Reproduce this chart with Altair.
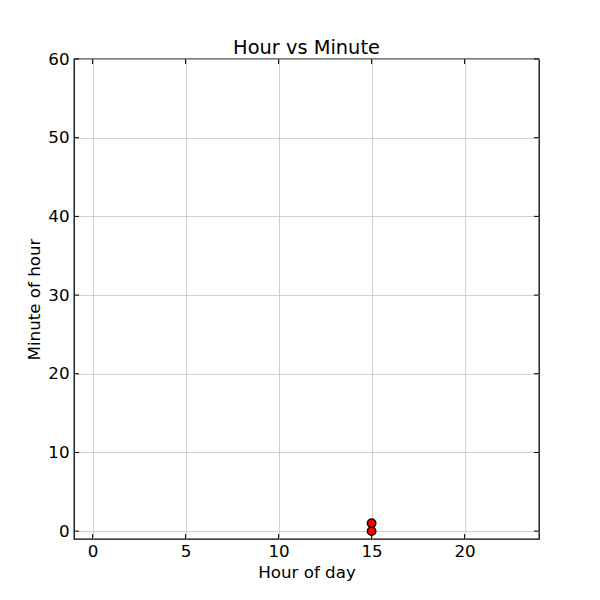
import altair as alt
import pandas as pd

hours = [15, 15]
minutes = [0, 1]
x_ticks = [0, 5, 10, 15, 20]
y_ticks = [0, 10, 20, 30, 40, 50, 60]

W, H = 465, 480
FONT = "DejaVu Sans"

pts = pd.DataFrame({"hour": hours, "minute": minutes})
xt = pd.DataFrame({"v": x_ticks})
yt = pd.DataFrame({"v": y_ticks})

xscale = alt.Scale(domain=[-1, 24], nice=False, zero=False)
yscale = alt.Scale(domain=[-1, 60], nice=False, zero=False)

base_x_axis = alt.Axis(values=x_ticks, tickSize=0, labelPadding=4, grid=True,
                       gridColor="#c4c4c4", gridWidth=0.8, domain=False,
                       labelFontSize=16.7, titleFontSize=16.7, labelFont=FONT, titleFont=FONT,
                       labelColor="black", titleColor="black", titleFontWeight="normal",
                       titlePadding=5)
base_y_axis = alt.Axis(values=y_ticks, tickSize=0, labelPadding=5, grid=True,
                       gridColor="#c4c4c4", gridWidth=0.8, domain=False,
                       labelFontSize=16.7, titleFontSize=16.7, labelFont=FONT, titleFont=FONT,
                       labelColor="black", titleColor="black", titleFontWeight="normal",
                       titlePadding=4)

points = alt.Chart(pts).mark_point(filled=True, size=70, shape="circle",
                                   fill="red", stroke="black", strokeWidth=1.5,
                                   opacity=1).encode(
    x=alt.X("hour:Q", scale=xscale, axis=base_x_axis, title="Hour of day"),
    y=alt.Y("minute:Q", scale=yscale, axis=base_y_axis, title="Minute of hour"),
)

tick_len = 5
bx = alt.Chart(xt).mark_rule(color="black", strokeWidth=1).encode(
    x=alt.X("v:Q", scale=xscale), y=alt.value(H), y2=alt.value(H - tick_len))
tx = alt.Chart(xt).mark_rule(color="black", strokeWidth=1).encode(
    x=alt.X("v:Q", scale=xscale), y=alt.value(0), y2=alt.value(tick_len))
ly = alt.Chart(yt).mark_rule(color="black", strokeWidth=1).encode(
    y=alt.Y("v:Q", scale=yscale), x=alt.value(0), x2=alt.value(tick_len))
ry = alt.Chart(yt).mark_rule(color="black", strokeWidth=1).encode(
    y=alt.Y("v:Q", scale=yscale), x=alt.value(W), x2=alt.value(W - tick_len))

chart = alt.layer(bx, tx, ly, ry, points).properties(
    width=W, height=H,
    background="white",
    title=alt.TitleParams("Hour vs Minute", fontSize=19.4, font=FONT,
                          fontWeight="normal", color="black", offset=-7, anchor="middle"),
    autosize=alt.AutoSizeParams(type="none"),
    padding={"left": 66, "top": 51, "right": 53, "bottom": 53},
).configure_view(stroke="black", strokeWidth=1.3, strokeOpacity=1)

chart.save("out.html", embed_options={"renderer": "svg", "actions": False})
